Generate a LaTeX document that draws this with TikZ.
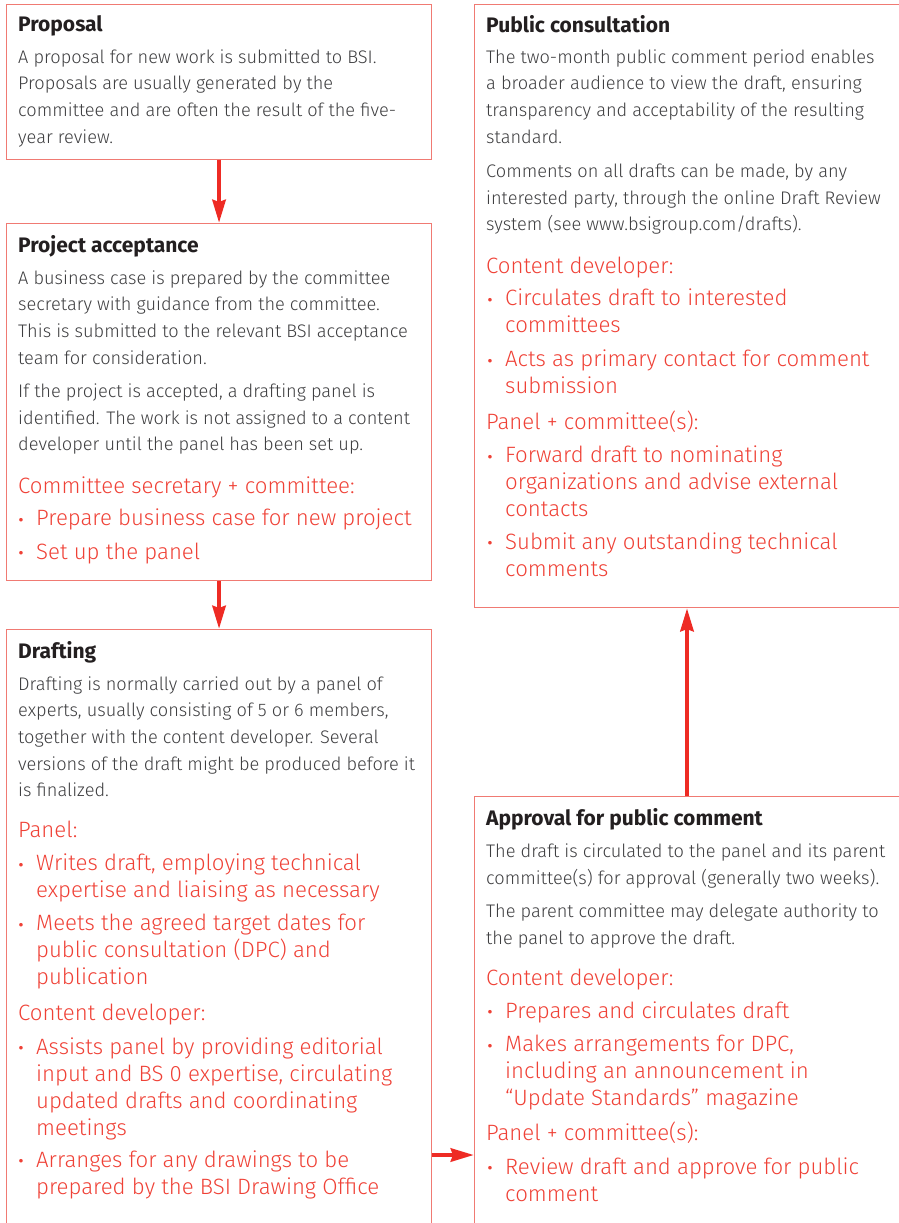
\documentclass[tikz,border=0pt]{standalone}
\usepackage{fontspec}
\setmainfont{Fira Sans}[UprightFont=* Light, BoldFont=* Bold]
\usetikzlibrary{arrows.meta}

\definecolor{ink}{HTML}{231F20}
\definecolor{txt}{HTML}{3E3E40}
\definecolor{hot}{HTML}{EF4136}
\definecolor{edge}{HTML}{F07A73}
\definecolor{flow}{HTML}{EE2B24}

\newcommand\rows[1]{\begin{tabular}[t]{@{}l@{}}#1\end{tabular}}

\tikzset{
  box/.style={draw=edge, line width=1.1pt, rectangle, inner sep=0pt, anchor=north west},
  head/.style={anchor=base west, inner sep=0pt, text=ink, font=\fontsize{21}{24}\selectfont\bfseries},
  body/.style={anchor=base west, inner sep=0pt, text=txt, font=\fontsize{18.2}{26.7}\selectfont},
  role/.style={anchor=base west, inner sep=0pt, text=hot, font=\fontsize{22.2}{27}\selectfont},
  dot/.style={anchor=base, inner sep=0pt, yshift=-2.5pt, text=hot, font=\fontsize{24}{27}\selectfont},
  flowarrow/.style={draw=flow, line width=4.5pt, -{Stealth[length=23pt,width=13pt,inset=2pt]}},
}

\begin{document}
\begin{tikzpicture}[x=1pt,y=-1pt]
\useasboundingbox (0,0) rectangle (899,1223);
\clip (0,0) rectangle (899,1223);

% stage boxes (the lower and right ones run past the page edge)
\node[box, minimum width=425, minimum height=154.5] (prop) at (6,4) {};
\node[box, minimum width=425, minimum height=357] (acc) at (6,223) {};
\node[box, minimum width=425, minimum height=700] (draft) at (6,629) {};
\node[box, minimum width=500, minimum height=603] (pub) at (474,4) {};
\node[box, minimum width=500, minimum height=500] (appr) at (474,796) {};

% ---------- Proposal ----------
\node[head] (prop-h) at (18,32) {Proposal};
\node[body] (prop-p1) at (18,63.3) {\rows{A proposal for new work is submitted to BSI.\\
Proposals are usually generated by the\\
committee and are often the result of the five-\\
year review.}};

% ---------- Project acceptance ----------
\node[head] (acc-h) at (18,252.3) {Project acceptance};
\node[body] (acc-p1) at (18,284) {\rows{A business case is prepared by the committee\\
secretary with guidance from the committee.\\
This is submitted to the relevant BSI acceptance\\
team for consideration.}};
\node[body] (acc-p2) at (18,397.3) {\rows{If the project is accepted, a drafting panel is\\
identified. The work is not assigned to a content\\
developer until the panel has been set up.}};
\node[role] (acc-r) at (18,493.3) {Committee secretary + committee:};
\node[dot] (acc-d1) at (21,525.7) {•};
\node[role] (acc-b1) at (36,525.7) {Prepare business case for new project};
\node[dot] (acc-d2) at (21,559) {•};
\node[role] (acc-b2) at (36,559) {Set up the panel};

% ---------- Drafting ----------
\node[head] (dr-h) at (18,658.3) {Drafting};
\node[body] (dr-p1) at (18,690) {\rows{Drafting is normally carried out by a panel of\\
experts, usually consisting of 5 or 6 members,\\
together with the content developer. Several\\
versions of the draft might be produced before it\\
is finalized.}};
\node[role] (dr-r1) at (18,837.3) {Panel:};
\node[dot] (dr-d1) at (21,870.7) {•};
\node[role] (dr-b1) at (36,870.7) {\rows{Writes draft, employing technical\\
expertise and liaising as necessary}};
\node[dot] (dr-d2) at (21,930.7) {•};
\node[role] (dr-b2) at (36,930.7) {\rows{Meets the agreed target dates for\\
public consultation (DPC) and\\
publication}};
\node[role] (dr-r2) at (18,1020.7) {Content developer:};
\node[dot] (dr-d3) at (21,1054) {•};
\node[role] (dr-b3) at (36,1054) {\rows{Assists panel by providing editorial\\
input and BS 0 expertise, circulating\\
updated drafts and coordinating\\
meetings}};
\node[dot] (dr-d4) at (21,1167.3) {•};
\node[role] (dr-b4) at (36,1167.3) {\rows{Arranges for any drawings to be\\
prepared by the BSI Drawing Office}};

% ---------- Public consultation ----------
\node[head] (pub-h) at (486,32.3) {Public consultation};
\node[body] (pub-p1) at (486,63.3) {\rows{The two-month public comment period enables\\
a broader audience to view the draft, ensuring\\
transparency and acceptability of the resulting\\
standard.}};
\node[body] (pub-p2) at (486,177.3) {\rows{Comments on all drafts can be made, by any\\
interested party, through the online Draft Review\\
system (see www.bsigroup.com/drafts).}};
\node[role] (pub-r1) at (486,273.3) {Content developer:};
\node[dot] (pub-d1) at (490,305.5) {•};
\node[role] (pub-b1) at (505,305.5) {\rows{Circulates draft to interested\\
committees}};
\node[dot] (pub-d2) at (490,366.7) {•};
\node[role] (pub-b2) at (505,366.7) {\rows{Acts as primary contact for comment\\
submission}};
\node[role] (pub-r2) at (486,429.3) {Panel + committee(s):};
\node[dot] (pub-d3) at (490,462.7) {•};
\node[role] (pub-b3) at (505,462.7) {\rows{Forward draft to nominating\\
organizations and advise external\\
contacts}};
\node[dot] (pub-d4) at (490,549.3) {•};
\node[role] (pub-b4) at (505,549.3) {\rows{Submit any outstanding technical\\
comments}};

% ---------- Approval for public comment ----------
\node[head] (ap-h) at (486,825) {Approval for public comment};
\node[body] (ap-p1) at (486,857.3) {\rows{The draft is circulated to the panel and its parent\\
committee(s) for approval (generally two weeks).}};
\node[body] (ap-p2) at (486,917.3) {\rows{The parent committee may delegate authority to\\
the panel to approve the draft.}};
\node[role] (ap-r1) at (486,985) {Content developer:};
\node[dot] (ap-d1) at (490,1018.3) {•};
\node[role] (ap-b1) at (505,1018.3) {Prepares and circulates draft};
\node[dot] (ap-d2) at (490,1051.7) {•};
\node[role] (ap-b2) at (505,1051.7) {\rows{Makes arrangements for DPC,\\
including an announcement in\\
“Update Standards” magazine}};
\node[role] (ap-r2) at (486,1140.7) {Panel + committee(s):};
\node[dot] (ap-d3) at (490,1174) {•};
\node[role] (ap-b3) at (505,1174) {\rows{Review draft and approve for public\\
comment}};

% ---------- flow between stages ----------
\coordinate (lvl) at (0,1155);
\coordinate (col) at (687,0);
\draw[flowarrow] (prop.south) -- (acc.north);
\draw[flowarrow] (acc.south) -- (draft.north);
\draw[flowarrow] (draft.east |- lvl) -- (appr.west |- lvl);
\draw[flowarrow] (appr.north -| col) -- (pub.south -| col);
\end{tikzpicture}
\end{document}
